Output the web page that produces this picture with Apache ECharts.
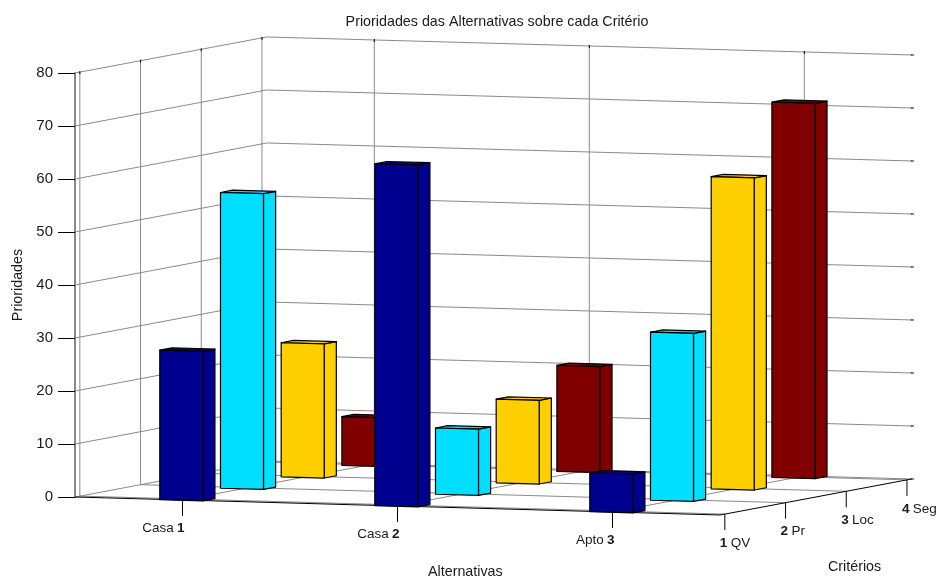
<!DOCTYPE html>
<html>
<head>
<meta charset="utf-8">
<style>
    html, body { margin: 0; padding: 0; background: #fff; }
    #chart { width: 939px; height: 581px; }
</style>
<script src="https://cdn.jsdelivr.net/npm/echarts@6/dist/echarts.min.js"></script>
</head>
<body>
<div id="chart"></div>
<script>
// dados
const alternativas = ['Casa 1', 'Casa 2', 'Apto 3']
const criterios = ['1 QV', '2 Pr', '3 Loc', '4 Seg']
const valoresQV = [28.2, 64.5, 7.3]
const valoresPr = [55.8, 12.5, 31.7]
const valoresLoc = [25.3, 15.8, 58.9]
const valoresSeg = [9.2, 20, 70.8]
const coresCriterios = ['#00008f', '#00dfff', '#ffcf00', '#800000']
const ticksPrioridade = [0, 10, 20, 30, 40, 50, 60, 70, 80]

// limites dos eixos (como xlim / ylim do bar3)
const minAlt = 0.5
const maxAlt = 3.5
const minCrit = 0.92
const maxCrit = 4.08
const larguraBarra = 0.2

// vista 3D: deslocamento em pixels por unidade
const inclinacaoAlt = 6
const critDx = 60.7
const critDy = -11.4
const corGrade = '#8a8a8a'
const fonte = 'Liberation Sans'
const tamanhoFonte = 14.3
const tamanhoRotulo = 13.5

// ordem de desenho: do fundo para a frente
const valoresPorCriterio = [valoresQV, valoresPr, valoresLoc, valoresSeg]
const dadosBarras = []
for (let c = criterios.length - 1; c >= 0; c--) {
    alternativas.forEach((nome, a) => {
        dadosBarras.push([a + 1, c + 1, valoresPorCriterio[c][a], c])
    })
}

// projeta (alternativa, critério, prioridade) para pixels usando os eixos do grid
function projetar(api, a, c, v) {
    const p = api.coord([a, v])
    return [
        p[0] + (c - minCrit) * critDx,
        p[1] + (a - minAlt) * inclinacaoAlt + (c - minCrit) * critDy
    ]
}

function linha(p1, p2, cor, largura) {
    return {
        type: 'line',
        silent: true,
        shape: { x1: p1[0], y1: p1[1], x2: p2[0], y2: p2[1] },
        style: { stroke: cor, lineWidth: largura || 1 }
    }
}

function rotulo(texto, x, y, alinhamento) {
    const partes = texto.split(' ')
    const rico = /^\d/.test(texto)
        ? '{n|' + partes[0] + '} {t|' + partes[1] + '}'
        : '{t|' + partes[0] + '} {n|' + partes[1] + '}'
    return {
        type: 'text',
        silent: true,
        style: {
            x: x,
            y: y,
            text: rico,
            align: alinhamento,
            verticalAlign: 'middle',
            rich: {
                t: { fontFamily: fonte, fontSize: tamanhoRotulo, fill: '#1a1a1a' },
                n: { fontFamily: fonte, fontSize: tamanhoRotulo, fontWeight: 'bold', fill: '#1a1a1a' }
            }
        }
    }
}

// paredes, grade e eixos inclinados
function desenharCaixa(params, api) {
    const filhos = []
    ticksPrioridade.forEach(v => {
        const fimDir = projetar(api, maxAlt, maxCrit, v)
        const canto = projetar(api, minAlt, maxCrit, v)
        filhos.push(linha(projetar(api, minAlt, minCrit, v), canto, corGrade))
        filhos.push(linha(canto, fimDir, corGrade))
        // marquinha na ponta da grade
        filhos.push(linha([fimDir[0] - 1, fimDir[1]], [fimDir[0] + 2, fimDir[1]], '#000'))
    })
    alternativas.forEach((nome, i) => {
        const a = i + 1
        const topo = projetar(api, a, maxCrit, 80)
        filhos.push(linha(projetar(api, a, maxCrit, 0), topo, corGrade))
        filhos.push(linha(projetar(api, a, minCrit, 0), projetar(api, a, maxCrit, 0), corGrade))
        filhos.push(linha([topo[0], topo[1] - 1], [topo[0], topo[1] + 2], '#000'))
    })
    criterios.forEach((nome, i) => {
        const c = i + 1
        const topo = projetar(api, minAlt, c, 80)
        filhos.push(linha(projetar(api, minAlt, c, 0), topo, corGrade))
        filhos.push(linha(projetar(api, minAlt, c, 0), projetar(api, maxAlt, c, 0), corGrade))
        filhos.push(linha([topo[0], topo[1] - 1], [topo[0], topo[1] + 2], '#000'))
    })
    // eixos da frente
    filhos.push(linha(projetar(api, minAlt, minCrit, 0), projetar(api, maxAlt, minCrit, 0), '#000'))
    filhos.push(linha(projetar(api, maxAlt, minCrit, 0), projetar(api, maxAlt, maxCrit, 0), '#000'))
    alternativas.forEach((nome, i) => {
        const p = projetar(api, i + 1, minCrit, 0)
        filhos.push(linha(p, [p[0], p[1] + 16], '#000'))
        filhos.push(rotulo(nome, p[0] + 2, p[1] + 28, 'right'))
    })
    criterios.forEach((nome, i) => {
        const p = projetar(api, maxAlt, i + 1, 0)
        filhos.push(linha(p, [p[0], p[1] + 16], '#000'))
        filhos.push(rotulo(nome, p[0] - 5, p[1] + 29, 'left'))
    })
    return { type: 'group', children: filhos }
}

// cada barra: frente, lado direito e topo
function desenharBarra(params, api) {
    const a = api.value(0)
    const c = api.value(1)
    const v = api.value(2)
    const cor = coresCriterios[api.value(3)]
    const m = larguraBarra / 2
    const estilo = { fill: cor, stroke: '#000', lineWidth: 1.2, lineJoin: 'round' }
    const face = pontos => ({
        type: 'polygon',
        shape: { points: pontos },
        style: estilo
    })
    return {
        type: 'group',
        children: [
            face([
                projetar(api, a + m, c - m, 0), projetar(api, a + m, c + m, 0),
                projetar(api, a + m, c + m, v), projetar(api, a + m, c - m, v)
            ]),
            face([
                projetar(api, a - m, c - m, v), projetar(api, a + m, c - m, v),
                projetar(api, a + m, c + m, v), projetar(api, a - m, c + m, v)
            ]),
            face([
                projetar(api, a - m, c - m, 0), projetar(api, a + m, c - m, 0),
                projetar(api, a + m, c - m, v), projetar(api, a - m, c - m, v)
            ])
        ]
    }
}

const textoEixo = { fontFamily: fonte, fontSize: tamanhoFonte, fill: '#1a1a1a' }

const myChart = echarts.init(document.getElementById('chart'), null, { renderer: 'canvas' })
myChart.setOption({
    animation: false,
    backgroundColor: '#fff',
    title: {
        text: 'Prioridades das Alternativas sobre cada Critério',
        left: 492,
        top: 10,
        textAlign: 'center',
        textStyle: { fontFamily: fonte, fontSize: tamanhoFonte, fontWeight: 'normal', color: '#1a1a1a' }
    },
    grid: { left: 75, top: 73, width: 645, height: 424 },
    xAxis: { type: 'value', min: minAlt, max: maxAlt, show: false },
    yAxis: {
        type: 'value',
        min: 0,
        max: 80,
        interval: 10,
        name: 'Prioridades',
        nameLocation: 'middle',
        nameGap: 47,
        nameRotate: 90,
        nameTextStyle: { fontFamily: fonte, fontSize: tamanhoFonte, color: '#1a1a1a' },
        axisLine: { show: true, onZero: false, lineStyle: { color: '#888', width: 2 } },
        axisTick: { show: true, length: 17, lineStyle: { color: '#000' } },
        axisLabel: { fontFamily: fonte, fontSize: 15, color: '#1a1a1a', margin: 22 },
        splitLine: { show: false }
    },
    graphic: [
        { type: 'text', left: 428, top: 565, style: Object.assign({ text: 'Alternativas' }, textoEixo) },
        { type: 'text', left: 828, top: 560, style: Object.assign({ text: 'Critérios' }, textoEixo) }
    ],
    series: [
        {
            type: 'custom',
            renderItem: desenharCaixa,
            data: [[minAlt, 0]],
            silent: true,
            z: 1
        },
        {
            type: 'custom',
            renderItem: desenharBarra,
            encode: { x: 0, y: 2 },
            data: dadosBarras,
            silent: true,
            z: 2
        }
    ]
})
</script>
</body>
</html>
